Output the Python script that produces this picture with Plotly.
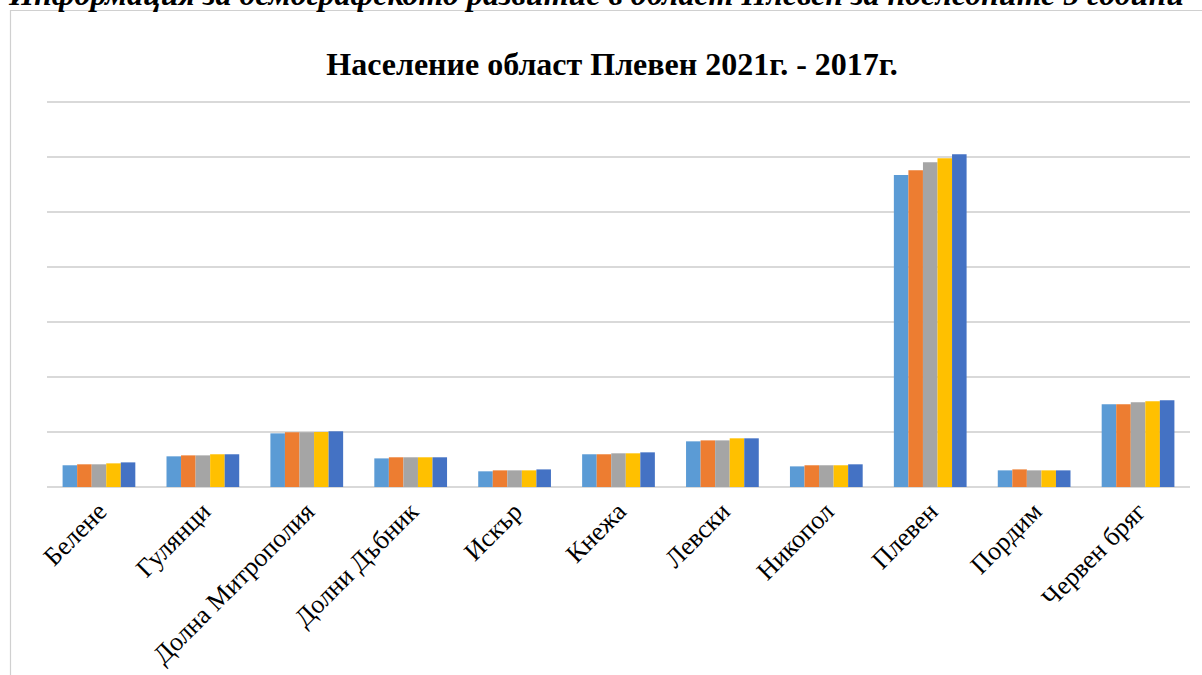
import plotly.graph_objects as go

categories = ["Белене", "Гулянци", "Долна Митрополия", "Долни Дъбник", "Искър",
              "Кнежа", "Левски", "Никопол", "Плевен", "Пордим", "Червен бряг"]
years = ["2021", "2020", "2019", "2018", "2017"]
colors = ["#5B9BD5", "#ED7D31", "#A5A5A5", "#FFC000", "#4472C4"]

v2021 = [7900, 11150, 19500, 10400, 5700, 11900, 16600, 7500, 113450, 6050, 30050]
v2020 = [8250, 11500, 19900, 10800, 6050, 11900, 16950, 7900, 115150, 6400, 30050]
v2019 = [8250, 11500, 19900, 10800, 6050, 12250, 16950, 7900, 118050, 6050, 30800]
v2018 = [8600, 11900, 20000, 10800, 6050, 12250, 17700, 7900, 119550, 6050, 31150]
v2017 = [8950, 11900, 20250, 10800, 6400, 12600, 17700, 8250, 121000, 6050, 31500]
series = [v2021, v2020, v2019, v2018, v2017]

fig = go.Figure()
for name, vals, col in zip(years, series, colors):
    fig.add_trace(go.Bar(x=categories, y=vals, name=name, marker_color=col,
                         marker_line_width=0))

W, H = 1202, 675
ml, mr, mt, mb = 47, 12, 100, 188
pw = W - ml - mr
ph = H - mt - mb

fig.update_layout(
    width=W, height=H,
    margin=dict(l=ml, r=mr, t=mt, b=mb, autoexpand=False),
    paper_bgcolor="white", plot_bgcolor="white",
    barmode="group", bargap=0.3, bargroupgap=0,
    showlegend=False,
    font=dict(family="Liberation Serif, Times New Roman, serif", color="black"),
    title=dict(text="<b>Население област Плевен 2021г. - 2017г.</b>",
               x=612 / W, xanchor="center", y=1 - 64 / H, yanchor="middle",
               font=dict(size=32, family="Liberation Serif, serif", color="black")),
    xaxis=dict(tickangle=-45, tickfont=dict(size=26, family="Liberation Serif, serif"),
               showgrid=False, showline=False, ticks="", automargin=False,
               ticklabelstandoff=3),
    yaxis=dict(range=[0, 140700], tickvals=[0, 20000, 40000, 60000, 80000, 100000, 120000, 140000],
               showticklabels=False,
               gridcolor="#d9d9d9", gridwidth=1.5, zeroline=True,
               zerolinecolor="#d9d9d9", zerolinewidth=1.5, showline=False,
               automargin=False),
)

# outer chart frame (partially outside the visible page)
fig.add_shape(type="rect", xref="paper", yref="paper",
              x0=(10.5 - ml) / pw, x1=(W + 20 - ml) / pw,
              y0=(mt + ph - (H + 20)) / ph, y1=1 + (mt - 10.5) / ph,
              line=dict(color="#d0d0d0", width=1.2), fillcolor="rgba(0,0,0,0)",
              layer="above")

# cut-off heading of the surrounding document
fig.add_annotation(text="<b><i>Информация за демографското развитие в област Плевен за последните 5 години</i></b>",
                   xref="paper", yref="paper", x=(6 - ml) / pw, xanchor="left",
                   y=1 + (mt + 6) / ph, yanchor="middle", showarrow=False,
                   font=dict(size=32, family="Liberation Serif, serif", color="black"))

fig.write_html("out.html", config={"displayModeBar": False},
               post_script="document.body.style.margin='0';")
